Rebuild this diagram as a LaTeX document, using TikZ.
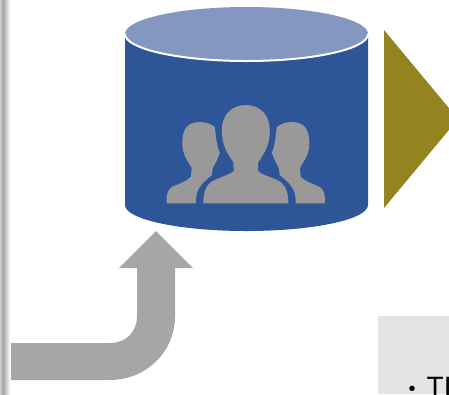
\documentclass[tikz,border=0pt]{standalone}
\usepackage{fontspec}
\setmainfont{Liberation Sans}
\definecolor{drumblue}{HTML}{2E5597}
\definecolor{drumtop}{HTML}{8497C0}
\definecolor{olive}{HTML}{948420}
\definecolor{arrowgray}{HTML}{A6A6A6}
\definecolor{usergray}{HTML}{999999}
\definecolor{panelgray}{HTML}{E4E4E4}

\begin{document}
\begin{tikzpicture}[x=1pt,y=-1pt,
    shape fill/.style={draw=none,fill=#1},
    user/.style={draw=none,fill=usergray,line join=round}]

  \path[use as bounding box] (0,0) rectangle (449,394);
  \clip (0,0) rectangle (449,394);
  \fill[white] (0,0) rectangle (449,394);

  % window edge
  \shade[left color=gray!40,right color=gray!70] (0,0) rectangle (3,394);
  \shade[left color=gray!70,right color=white] (3,0) rectangle (10,394);

  % drum
  \path[shape fill=drumblue] (125,34) -- (125,205)
      arc[start angle=180,end angle=0,x radius=121.5,y radius=26]
      -- (368,34) -- cycle;
  \path[shape fill=drumtop] (246.5,34) ellipse[x radius=121.5,y radius=27];
  \draw[white,line width=2pt] (125,34)
      arc[start angle=180,end angle=0,x radius=121.5,y radius=27];

  % users
  \foreach \s in {-1,1} {
    \begin{scope}[shift={(245.8,0)},xscale=\s]
      \path[user] (45.8,122) .. controls (59,122) and (63.5,130) .. (63.5,143)
          .. controls (63.5,155) and (58,161) .. (54,168)
          -- (55,177) .. controls (60,182) and (68,184) .. (74,187)
          .. controls (78,190) and (80,195) .. (79,203.3)
          -- (49.8,203.3) .. controls (50,196) and (49,191) .. (46,187)
          .. controls (43,182) and (37,178) .. (34,175)
          -- (33,168) .. controls (30,163) and (28,158) .. (26,153)
          .. controls (29,146) and (30,136) .. (31,127)
          .. controls (35,124) and (40,122) .. (45.8,122) -- cycle;
      \path[user] (0,105) .. controls (14,105) and (24,115) .. (24,130)
          .. controls (24,146) and (18,154) .. (12.5,162)
          -- (12,171) .. controls (18,176) and (30,178) .. (36,183)
          .. controls (41,187) and (42.5,195) .. (42.5,203.3)
          -- (0,203.3) -- cycle;
    \end{scope}
  }

  % triangle running off the page
  \path[shape fill=olive] (384,30) -- (458,119) -- (384,208) -- cycle;

  % bent arrow
  \path[shape fill=arrowgray] (11,343) -- (110,343)
      .. controls (126,343) and (137,332) .. (137,316)
      -- (137,268) -- (119,268) -- (156,231) -- (193,268) -- (175,268) -- (175,316)
      .. controls (175,352) and (146,380) .. (110,380) -- (11,380) -- cycle;

  % text panel
  \fill[panelgray] (378,316) rectangle (449,394);
  \node[anchor=base west,inner sep=0pt] (item) at (408.5,396)
      {\fontsize{28}{30}\selectfont\raisebox{1pt}{\fontsize{20}{20}\selectfont •}\hspace{11pt}TI};

\end{tikzpicture}
\end{document}
